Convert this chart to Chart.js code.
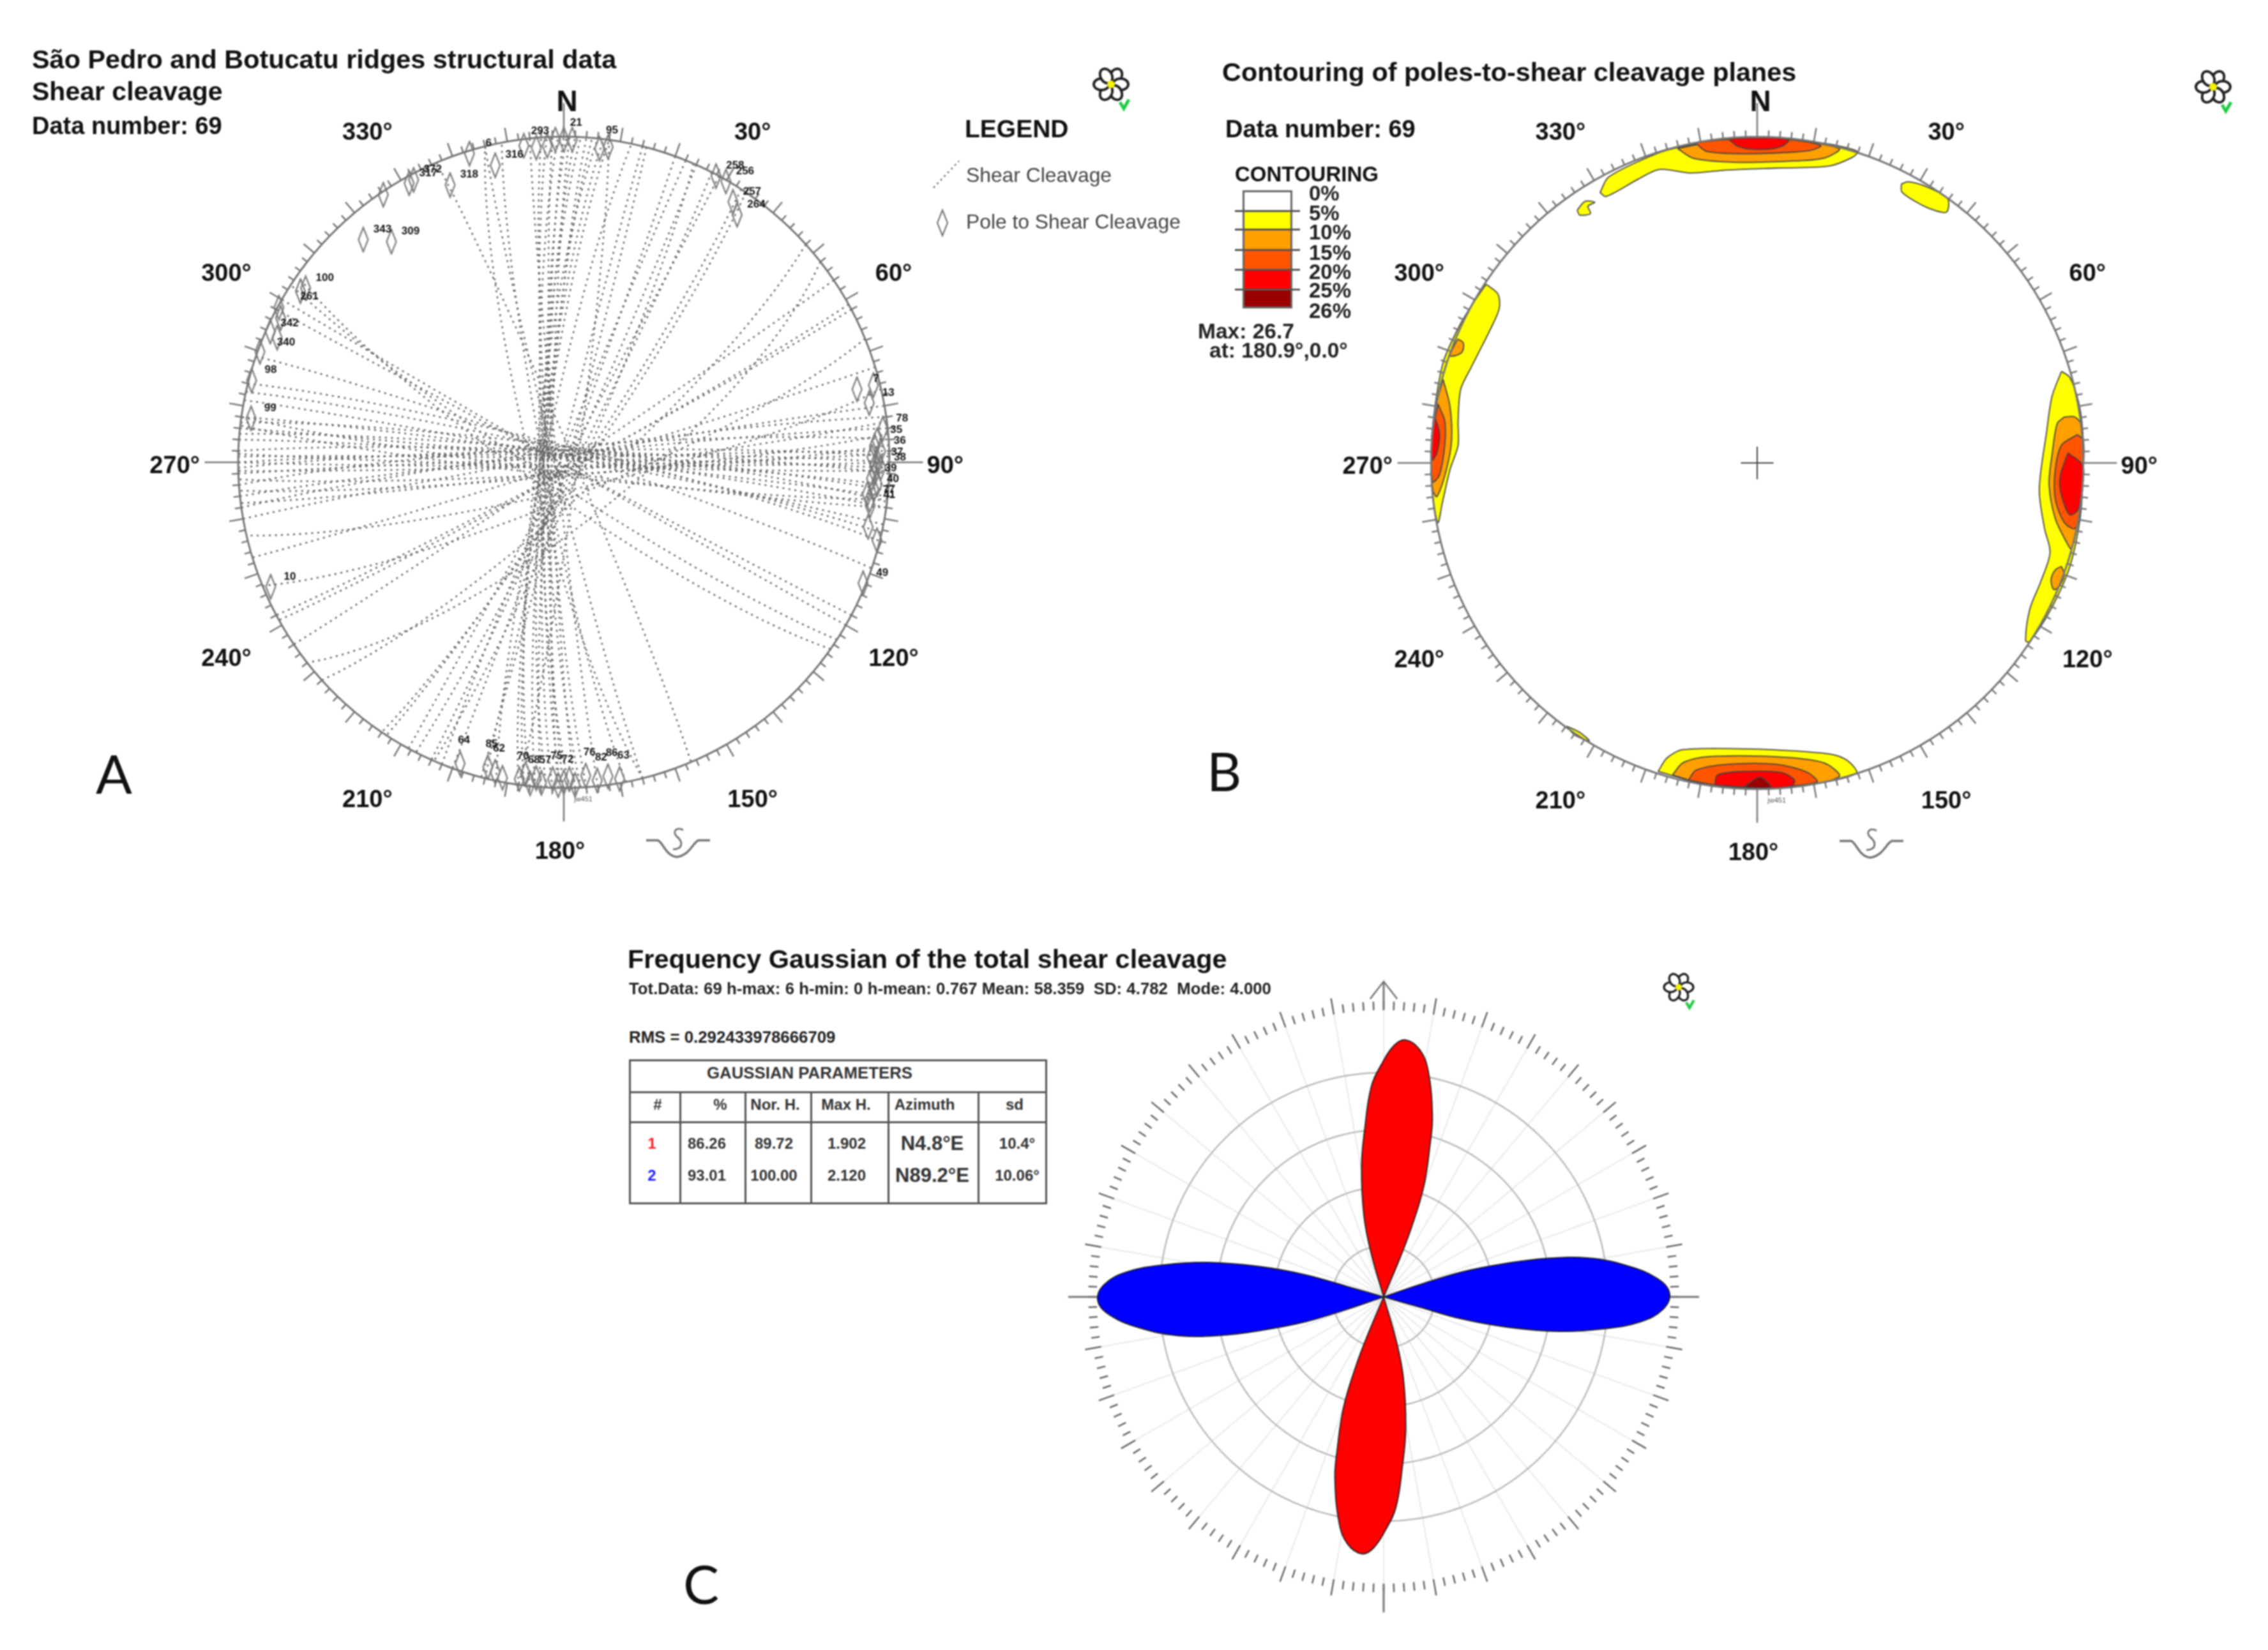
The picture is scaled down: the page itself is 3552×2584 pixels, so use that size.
<!DOCTYPE html>
<html>
<head>
<meta charset="utf-8">
<title>Shear cleavage</title>
<script src="https://cdn.jsdelivr.net/npm/chart.js@4"></script>
<style>
  html, body { margin: 0; padding: 0; background: #fff; }
  #page { position: relative; width: 3552px; height: 2584px; overflow: hidden; font-family: "Liberation Sans", Arial, sans-serif; filter: blur(0.8px); background: #fff; }
  #page canvas { position: absolute; }
  .txt { position: absolute; white-space: pre; transform: translateY(-50%); z-index: 5; }
  .bold { font-weight: bold; }
  .rule { position: absolute; background: #555; z-index: 5; }
  svg { position: absolute; z-index: 5; overflow: visible; }
</style>
</head>
<body>
<div id="page"></div>
<script>
// poles to shear cleavage (trend, plunge in degrees)
const poleTrend = [
  352.8, 355, 357, 358.5, 0, 1.5, 6.5, 8,
  28, 30, 33, 35,
  337.7, 347, 343, 331, 332, 326, 318, 322,
  304, 303, 298.5, 297, 294, 293.5, 290, 284.7, 278,
  247,
  199, 194, 192.5, 191, 188, 187, 186, 185, 184, 182, 181, 180, 179, 178, 176, 174, 172, 170,
  76, 76, 79, 84, 86, 87, 88, 89, 90, 90.5, 91, 92, 93, 94, 95, 96, 97, 98, 102, 104, 112
];
const polePlunge = [
  2.3, 3.4, 3, 1, 1, 1, 3.4, 2.5,
  0.5, 0.5, 5.2, 8,
  8.8, 7.1, 1, 2.3, 2, 1, 8.8, 15.1,
  4.9, 4, 0.5, 2.7, 1.5, 4.5, 0.8, 1, 3.4,
  2.5,
  2.5, 4, 3, 1.5, 2, 4, 1, 3, 1.5, 3, 1, 2, 3, 1, 4, 2, 3, 1.5,
  8, 2.3, 5, 1.7, 4, 5, 3, 6, 4, 5, 3, 5, 6, 4, 5, 7, 6, 5.6, 5, 1, 1
];
const poleLabels = [
  '', '293', '', '', '', '21', '', '95',
  '258', '256', '257', '264',
  '318', '316', '6', '317', '372', '', '343', '309',
  '100', '261', '', '342', '', '340', '', '98', '99',
  '10',
  '64', '85', '62', '', '70', '', '68', '', '57', '75', '', '72', '', '', '76', '82', '86', '63',
  '7', '', '13', '78', '35', '', '36', '', '37', '', '38', '', '39', '', '40', '', '77', '41', '', '', '49'
];
const azimuthTicks = [30, 60, 90, 120, 150, 180, 210, 240, 270, 300, 330];

// contour polygons of panel B, [east, north] on the unit net
const north5 = [[-.482,.829],[-.455,.877],[-.317,.945],[-.244,.967],[-.106,.991],[0,.997],[.106,.991],[.219,.978],[.308,.955],[.292,.937],[.219,.910],[.057,.904],[-.106,.897],[-.203,.889],[-.300,.900],[-.365,.870],[-.463,.817],[-.482,.829]];
const north10 = [[-.244,.964],[-.195,.934],[-.073,.922],[.089,.925],[.203,.934],[.252,.964],[.106,.991],[0,.997],[-.106,.991],[-.244,.964]];
const north15 = [[-.190,.982],[-.154,.955],[-.041,.948],[.089,.952],[.162,.958],[.195,.973],[.106,.991],[0,.997],[-.106,.991],[-.190,.982]];
const north20 = [[-.089,.994],[-.057,.970],[.008,.961],[.073,.970],[.097,.991],[0,.997],[-.089,.994]];
const east5 = [[.933,.281],[.904,.204],[.888,.099],[.865,-.081],[.881,-.201],[.898,-.275],[.869,-.365],[.836,-.448],[.823,-.545],[.836,-.548],[.901,-.448],[.958,-.320],[.990,-.171],[1,-.02],[.998,.099],[.985,.189],[.958,.263],[.933,.281]];
const east10 = [[.942,.141],[.920,.121],[.904,.024],[.895,-.066],[.914,-.171],[.950,-.246],[.963,-.263],[.982,-.186],[1,-.02],[.995,.114],[.974,.141],[.942,.141]];
const east15 = [[.982,.087],[.933,.054],[.914,-.021],[.914,-.111],[.942,-.183],[.974,-.201],[.990,-.156],[1,-.021],[1,.069],[.982,.087]];
const east20 = [[.953,.031],[.930,-.036],[.930,-.088],[.958,-.159],[.985,-.141],[1,-.051],[.998,-.006],[.953,.031]];
const eastSpot10 = [[.933,-.317],[.914,-.328],[.901,-.358],[.909,-.388],[.925,-.380],[.942,-.343],[.933,-.317]];
const west5 = [[-.831,.548],[-.795,.518],[-.791,.473],[-.820,.406],[-.877,.293],[-.909,.226],[-.917,.129],[-.917,.054],[-.942,-.021],[-.966,-.126],[-.979,-.183],[-.995,-.096],[-.998,.054],[-.990,.159],[-.963,.308],[-.917,.413],[-.877,.481],[-.831,.548]];
const west10 = [[-.963,.256],[-.942,.174],[-.937,.069],[-.953,-.021],[-.982,-.103],[-.995,-.081],[-.998,.054],[-.985,.174],[-.963,.256]];
const west15 = [[-.979,.181],[-.958,.129],[-.958,.054],[-.974,-.036],[-.995,-.058],[-.998,.069],[-.979,.181]];
const west20 = [[-.990,.144],[-.974,.091],[-.982,.031],[-.997,.009],[-.998,.084],[-.990,.144]];
const westSpot10 = [[-.917,.380],[-.901,.368],[-.904,.341],[-.925,.329],[-.942,.329],[-.925,.368],[-.917,.380]];
const south5 = [[-.304,-.946],[-.276,-.904],[-.227,-.879],[-.024,-.877],[.219,-.892],[.276,-.912],[.304,-.952],[.154,-.987],[0,-.997],[-.154,-.987],[-.304,-.946]];
const south10 = [[-.260,-.957],[-.227,-.919],[-.154,-.901],[.057,-.901],[.203,-.919],[.252,-.961],[.138,-.990],[0,-.997],[-.138,-.990],[-.260,-.957]];
const south15 = [[-.211,-.973],[-.187,-.942],[-.089,-.924],[.057,-.924],[.154,-.949],[.183,-.979],[0,-.997],[-.100,-.992],[-.211,-.973]];
const south20 = [[-.130,-.987],[-.122,-.957],[-.041,-.946],[.073,-.949],[.114,-.972],[.105,-.991],[0,-.997],[-.130,-.987]];
const south25 = [[-.041,-.994],[.008,-.964],[.041,-.994],[-.041,-.994]];
const northEast5 = [[.442,.855],[.463,.862],[.519,.847],[.584,.810],[.580,.769],[.528,.780],[.471,.810],[.443,.832],[.442,.855]];
const northWestSpot5 = [[-.552,.775],[-.528,.802],[-.498,.799],[-.519,.787],[-.511,.765],[-.544,.760],[-.552,.775]];
const southWestSpot5 = [[-.584,-.807],[-.544,-.826],[-.515,-.852],[-.560,-.834],[-.584,-.807]];

const contourLevels = ['0%', '5%', '10%', '15%', '20%', '25%', '26%'];
const contourColors = ['#ffffff', '#ffff00', '#ff9f00', '#ff5500', '#ff0000', '#9a0000'];

// gaussian lobes of panel C, azimuth against normalised height
const lobe1Azimuth = [0, -16.1, -13.7, -9.6, -6.4, -3.4, -0.5, 2.4, 4.9, 8.3, 11.1, 15.1, 17, 20, 21.9, 22.9, 0];
const lobe1Height = [0, .158, .291, .463, .591, .733, .812, .878, .899, .871, .805, .653, .553, .409, .258, .134, 0];
const lobe2Azimuth = [0, 71.2, 72.3, 74.6, 76.7, 79.3, 82.7, 86.1, 89.2, 92.5, 95.6, 98.4, 101.1, 103.7, 105.8, 106, 0];
const lobe2Height = [0, .133, .287, .437, .585, .729, .856, .955, .997, .976, .898, .769, .625, .449, .284, .131, 0];
const ringHeights = [.178, .383, .583, .782];

const gaussianHead = ['#', '%', 'Nor. H.', 'Max H.', 'Azimuth', 'sd'];
const gaussianRow1 = ['1', '86.26', '89.72', '1.902', 'N4.8°E', '10.4°'];
const gaussianRow2 = ['2', '93.01', '100.00', '2.120', 'N89.2°E', '10.06°'];

const page = document.getElementById('page');

function addText(text, x, y, size, opts) {
  opts = opts || {};
  const el = document.createElement('div');
  el.className = 'txt' + (opts.normal ? '' : ' bold');
  el.textContent = text;
  el.style.left = x + 'px';
  el.style.top = y + 'px';
  el.style.fontSize = size + 'px';
  el.style.color = opts.color || '#111';
  if (opts.family) el.style.fontFamily = opts.family;
  if (opts.center) el.style.transform = 'translate(-50%,-50%)';
  page.appendChild(el);
}

function addRule(x, y, w, h, color) {
  const el = document.createElement('div');
  el.className = 'rule';
  el.style.cssText = 'left:' + x + 'px;top:' + y + 'px;width:' + w + 'px;height:' + h + 'px;' + (color ? 'background:' + color : '');
  page.appendChild(el);
}

function addSvg(x, y, w, h, inner) {
  page.insertAdjacentHTML('beforeend', '<svg style="left:' + x + 'px;top:' + y + 'px" width="' + w + '" height="' + h + '" viewBox="0 0 ' + w + ' ' + h + '">' + inner + '</svg>');
}

function addFlower(cx, cy, s) {
  let petals = '';
  for (let a = 0; a < 360; a += 60) {
    petals += '<ellipse cx="0" cy="-15" rx="9" ry="12" fill="#fff" stroke="#222" stroke-width="4" transform="rotate(' + (a + 30) + ')"/>';
  }
  addSvg(cx - 40, cy - 40, 80, 100, '<g transform="translate(40,40) scale(' + s + ')">' + petals +
    '<circle r="6" fill="#f4f000"/><path d="M14 28 L20 38 L28 24" fill="none" stroke="#22cc44" stroke-width="5"/></g>');
}

function addSchmidt(x, y) {
  addSvg(x, y, 110, 60,
    '<path d="M2 20 H20 C28 22 32 44 50 46 C70 44 76 22 84 20 H102" fill="none" stroke="#777" stroke-width="3.5"/>' +
    '<path d="M60 4 C50 -2 42 6 50 14 C60 22 60 34 44 34" fill="none" stroke="#777" stroke-width="3"/>');
}

// equal area projection, lower hemisphere
function project(trend, plunge) {
  const rho = Math.SQRT2 * Math.sin((90 - plunge) / 2 * Math.PI / 180);
  const a = trend * Math.PI / 180;
  return { x: rho * Math.sin(a), y: rho * Math.cos(a) };
}

function polar(az, rho) {
  const a = az * Math.PI / 180;
  return { x: rho * Math.sin(a), y: rho * Math.cos(a) };
}

function greatCircle(trend, plunge) {
  const strike = (trend + 90) * Math.PI / 180;
  const dipDir = (trend + 180) * Math.PI / 180;
  const dip = (90 - plunge) * Math.PI / 180;
  const pts = [];
  for (let t = 0; t <= 180; t += 6) {
    const c = Math.cos(t * Math.PI / 180), s = Math.sin(t * Math.PI / 180);
    const e = c * Math.sin(strike) + s * Math.cos(dip) * Math.sin(dipDir);
    const n = c * Math.cos(strike) + s * Math.cos(dip) * Math.cos(dipDir);
    const z = s * Math.sin(dip);
    pts.push(project(Math.atan2(e, n) * 180 / Math.PI, Math.asin(Math.min(1, z)) * 180 / Math.PI));
  }
  return pts;
}

function toPoints(pairs) {
  return pairs.map(p => ({ x: p[0], y: p[1] }));
}

function circleData(rho) {
  const pts = [];
  for (let az = 0; az <= 360; az += 2) pts.push(polar(az, rho));
  return pts;
}

// tick marks round a net, sizes are in units of the net radius
function rimTicks(small, medium, long, from) {
  const pts = [];
  for (let az = 0; az < 360; az += 2) {
    let len = small;
    if (az % 10 === 0) len = medium;
    if (az % 90 === 0) len = long;
    pts.push(polar(az, from), polar(az, from + len), { x: NaN, y: NaN });
  }
  return pts;
}

function lineSet(data, color, width, extra) {
  return Object.assign({ data: data, showLine: true, borderColor: color, borderWidth: width, pointRadius: 0, tension: 0, fill: false }, extra || {});
}

// fills a closed dataset along the path chart.js made for its line
const polygonFill = {
  id: 'polygonFill',
  beforeDatasetDraw(chart, args) {
    const ds = chart.data.datasets[args.index];
    if (!ds.polygonColor) return;
    const ctx = chart.ctx;
    ctx.save();
    ctx.beginPath();
    args.meta.dataset.path(ctx);
    ctx.closePath();
    ctx.fillStyle = ds.polygonColor;
    ctx.fill();
    ctx.restore();
  }
};

const rimLabels = {
  id: 'rimLabels',
  afterDraw(chart) {
    const ctx = chart.ctx, sx = chart.scales.x, sy = chart.scales.y;
    ctx.save();
    ctx.fillStyle = '#111';
    ctx.textAlign = 'center';
    ctx.textBaseline = 'middle';
    ctx.font = 'bold 38px "Liberation Sans"';
    azimuthTicks.forEach(az => {
      const p = polar(az, 1.183);
      ctx.fillText(az + '°', sx.getPixelForValue(p.x) - 6, sy.getPixelForValue(p.y) + 7);
    });
    ctx.font = 'bold 46px "Liberation Sans"';
    ctx.fillText('N', sx.getPixelForValue(0.01), sy.getPixelForValue(1.11) + 3);
    ctx.font = '11px "Liberation Sans"';
    ctx.fillStyle = '#555';
    ctx.fillText('jw451', sx.getPixelForValue(0.06), sy.getPixelForValue(-1.035));
    ctx.restore();
  }
};

const poleTags = {
  id: 'poleTags',
  afterDraw(chart) {
    const ctx = chart.ctx, sx = chart.scales.x, sy = chart.scales.y;
    ctx.save();
    ctx.fillStyle = '#111';
    ctx.textAlign = 'center';
    ctx.textBaseline = 'middle';
    ctx.font = 'bold 17px "Liberation Sans"';
    poleLabels.forEach((label, i) => {
      if (!label) return;
      const p = project(poleTrend[i], polePlunge[i]);
      const low = poleTrend[i] > 150 && poleTrend[i] < 210;
      const high = poleTrend[i] < 12 || poleTrend[i] > 350;
      const west = poleTrend[i] > 285 && poleTrend[i] < 304;
      let dx = 30, dy = -16;
      if (low) { dx = 6; dy = -36; }
      if (high) { dx = 6; dy = -26; }
      if (west) { dx = 14; dy = 8; }
      ctx.fillText(label, sx.getPixelForValue(p.x) + dx, sy.getPixelForValue(p.y) + dy);
    });
    ctx.restore();
  }
};

function makeChart(cx, cy, r, range, datasets, plugins) {
  const canvas = document.createElement('canvas');
  const half = Math.round(r * range);
  canvas.width = half * 2;
  canvas.height = half * 2;
  canvas.style.left = (cx - half) + 'px';
  canvas.style.top = (cy - half) + 'px';
  page.appendChild(canvas);
  return new Chart(canvas, {
    type: 'scatter',
    data: { datasets: datasets },
    plugins: plugins,
    options: {
      responsive: false,
      animation: false,
      layout: { padding: 0, autoPadding: false },
      plugins: { legend: { display: false }, tooltip: { enabled: false } },
      scales: {
        x: { type: 'linear', display: false, min: -range, max: range },
        y: { type: 'linear', display: false, min: -range, max: range }
      }
    }
  });
}

// narrow open diamond used for the poles
function diamondSymbol(w, h) {
  const c = document.createElement('canvas');
  c.width = w + 4;
  c.height = h + 4;
  const g = c.getContext('2d');
  g.strokeStyle = '#777';
  g.lineWidth = 2.2;
  g.beginPath();
  g.moveTo(c.width / 2, 2);
  g.lineTo(c.width - 2, c.height / 2);
  g.lineTo(c.width / 2, c.height - 2);
  g.lineTo(2, c.height / 2);
  g.closePath();
  g.stroke();
  return c;
}

// panel A
const planeSets = poleTrend.map((t, i) => lineSet(greatCircle(t, polePlunge[i]), '#666', 2.6, { borderDash: [3, 6.5] }));
const poleSet = {
  data: poleTrend.map((t, i) => project(t, polePlunge[i])),
  pointStyle: diamondSymbol(15, 38),
  pointRadius: 10,
  showLine: false
};
makeChart(883, 724, 510, 1.3, [
  poleSet,
  lineSet(circleData(1), '#777', 3),
  lineSet(rimTicks(.02, .043, .103, 1), '#777', 2.5)
].concat(planeSets), [rimLabels, poleTags]);

// panel B
function contourSet(pairs, level) {
  return lineSet(toPoints(pairs), '#444', 1.8, { polygonColor: contourColors[level], tension: .3, order: 10 - level });
}
makeChart(2752, 725, 511, 1.3, [
  lineSet(circleData(1), '#777', 3, { order: 0 }),
  lineSet(rimTicks(.02, .043, .103, 1), '#777', 2.5, { order: 0 }),
  lineSet([{ x: -.05, y: 0 }, { x: .05, y: 0 }], '#444', 2, { order: 0 }),
  lineSet([{ x: 0, y: -.05 }, { x: 0, y: .05 }], '#444', 2, { order: 0 }),
  contourSet(north5, 1), contourSet(east5, 1), contourSet(west5, 1), contourSet(south5, 1),
  contourSet(northEast5, 1), contourSet(northWestSpot5, 1), contourSet(southWestSpot5, 1),
  contourSet(north10, 2), contourSet(east10, 2), contourSet(west10, 2), contourSet(south10, 2),
  contourSet(eastSpot10, 2), contourSet(westSpot10, 2),
  contourSet(north15, 3), contourSet(east15, 3), contourSet(west15, 3), contourSet(south15, 3),
  contourSet(north20, 4), contourSet(east20, 4), contourSet(west20, 4), contourSet(south20, 4),
  contourSet(south25, 5)
], [polygonFill, rimLabels]);

// panel C
function lobeSet(az, height, turn, color) {
  return lineSet(az.map((a, i) => polar(a + turn, height[i])), '#222', 1.8, { polygonColor: color, tension: .4 });
}
const spokes = [];
for (let az = 0; az < 360; az += 10) spokes.push(polar(az, 0), polar(az, 1), { x: NaN, y: NaN });
const crossArms = [];
[0, 90, 180, 270].forEach(az => crossArms.push(polar(az, 1), polar(az, 1.1), { x: NaN, y: NaN }));
makeChart(2167, 2031, 449, 1.18, [
  lobeSet(lobe2Azimuth, lobe2Height, 0, '#0000ff'),
  lobeSet(lobe2Azimuth, lobe2Height, 180, '#0000ff'),
  lobeSet(lobe1Azimuth, lobe1Height, 0, '#ff0000'),
  lobeSet(lobe1Azimuth, lobe1Height, 180, '#ff0000'),
  lineSet(crossArms, '#777', 3),
  lineSet([polar(-2.6, 1.04), polar(0, 1.1), polar(2.6, 1.04)], '#777', 2.5),
  lineSet(rimTicks(.03, .057, .03, 1), '#666', 2.5),
  ...ringHeights.map(h => lineSet(circleData(h), '#bbbbbb', 2.5)),
  lineSet(spokes, '#e8e8e8', 2)
], [polygonFill]);

// text and legends
addText('São Pedro and Botucatu ridges structural data', 50, 93, 41.4);
addText('Shear cleavage', 50, 143, 41);
addText('Data number: 69', 50, 197, 38);
addText('A', 150, 1210, 84, { normal: true, family: 'Lato' });

addText('LEGEND', 1511, 202, 39);
addText('Shear Cleavage', 1513, 274, 31.8, { normal: true, color: '#444' });
addText('Pole to Shear Cleavage', 1513, 347, 31.8, { normal: true, color: '#444' });
addSvg(1455, 245, 60, 55, '<path d="M7 49 L47 7" stroke="#666" stroke-width="2.2" stroke-dasharray="3 5" fill="none"/>');
addSvg(1465, 326, 24, 48, '<path d="M11 3 L19 23 L11 43 L3 23 Z" stroke="#777" stroke-width="2.2" fill="none"/>');
addFlower(1740, 132, 1);

addText('Contouring of poles-to-shear cleavage planes', 1914, 113, 41.4);
addText('Data number: 69', 1919, 202, 38);
addText('B', 1890, 1206, 84, { normal: true, family: 'Lato' });
addText('CONTOURING', 1934, 273, 33);
const swatchTops = [298, 330, 359, 391, 422, 453, 482];
contourColors.forEach((c, i) => {
  addRule(1946, swatchTops[i], 78, swatchTops[i + 1] - swatchTops[i], c);
});
addRule(1946, 298, 3, 184, '#666');
addRule(2021, 298, 3, 184, '#666');
addRule(1946, 298, 78, 3, '#666');
addRule(1946, 480, 78, 3, '#666');
swatchTops.slice(1, 6).forEach(y => addRule(1934, y - 1, 102, 3, '#555'));
const swatchLabelY = [303, 334, 364, 396, 426, 455, 487];
contourLevels.forEach((t, i) => addText(t, 2050, swatchLabelY[i], 33, { color: '#222' }));
addText('Max: 26.7', 1876, 519, 33.5, { color: '#222' });
addText('at: 180.9°,0.0°', 1894, 549, 33.5, { color: '#222' });
addFlower(3466, 136, 1);
addSchmidt(1010, 1296);
addSchmidt(2879, 1297);

addText('Frequency Gaussian of the total shear cleavage', 983, 1502, 41.4);
addText('Tot.Data: 69 h-max: 6 h-min: 0 h-mean: 0.767 Mean: 58.359  SD: 4.782  Mode: 4.000', 985, 1548, 25.8, { color: '#222' });
addText('RMS = 0.292433978666709', 985, 1624, 25.8, { color: '#222' });
addText('C', 1070, 2479, 84, { normal: true, family: 'Lato' });
addFlower(2629, 1546, .85);

// gaussian table
addRule(985, 1659, 654, 3);
addRule(985, 1709, 654, 3);
addRule(985, 1756, 654, 3);
addRule(985, 1883, 654, 3);
[985, 1064, 1166, 1269, 1390, 1531, 1637].forEach((x, i) => {
  addRule(x, i === 0 || i === 6 ? 1659 : 1709, 3, i === 0 || i === 6 ? 227 : 177);
});
addText('GAUSSIAN PARAMETERS', 1268, 1680, 25.8, { center: true, color: '#333' });
const headX = [1030, 1128, 1214, 1325, 1448, 1589];
const cellX = [1021, 1107, 1212, 1326, 1460, 1593];
gaussianHead.forEach((t, i) => addText(t, headX[i], 1730, 24, { center: true, color: '#333' }));
gaussianRow1.forEach((t, i) => addText(t, cellX[i], 1791, i === 4 ? 31 : 24, { center: true, color: i === 0 ? '#ff2020' : '#333' }));
gaussianRow2.forEach((t, i) => addText(t, cellX[i], 1841, i === 4 ? 31 : 24, { center: true, color: i === 0 ? '#2020ff' : '#333' }));
</script>
</body>
</html>
